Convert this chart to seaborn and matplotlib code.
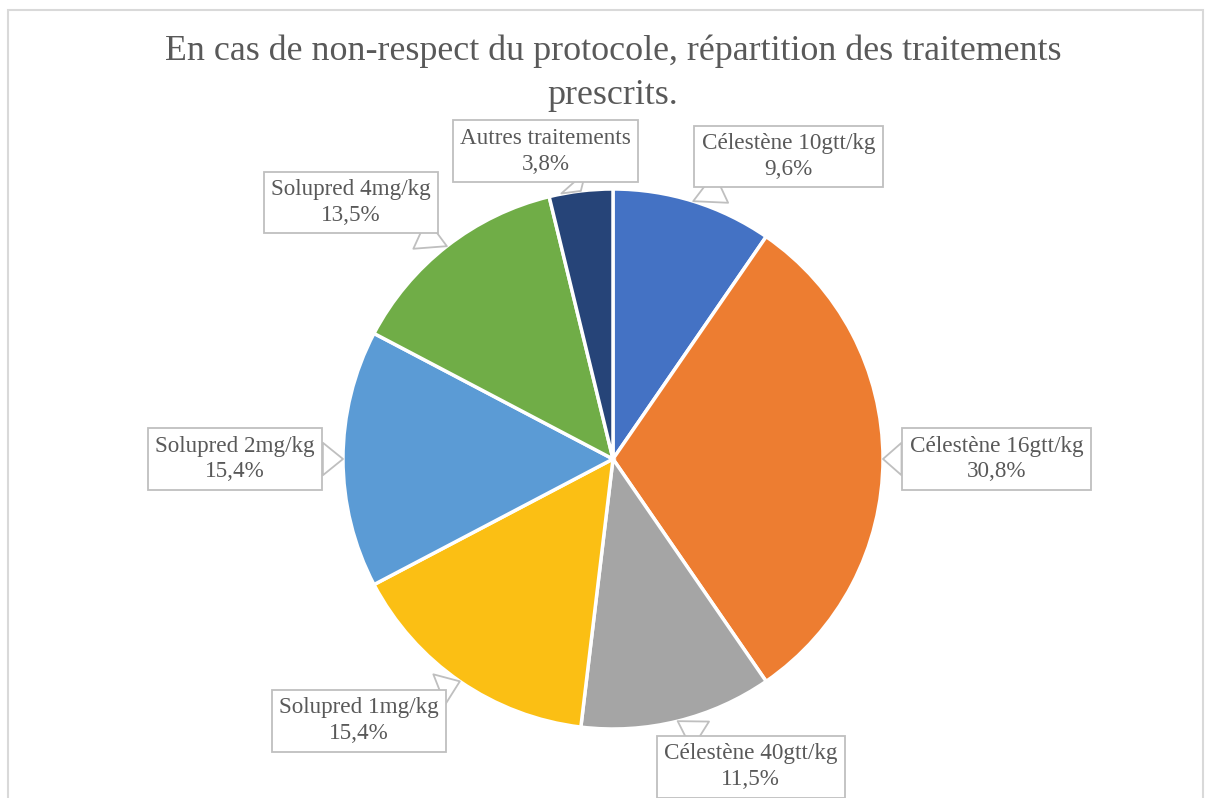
import numpy as np
import matplotlib
matplotlib.use("Agg")
import matplotlib.pyplot as plt
import seaborn as sns

# data (clockwise from 12 o'clock)
labels = ["Célestène 10gtt/kg", "Célestène 16gtt/kg", "Célestène 40gtt/kg",
          "Solupred 1mg/kg", "Solupred 2mg/kg", "Solupred 4mg/kg",
          "Autres traitements"]
shares = [9.6, 30.8, 11.5, 15.4, 15.4, 13.5, 3.8]
colors = ["#4472C4", "#ED7D31", "#A5A5A5", "#FBBF14", "#5B9BD5", "#70AD47", "#264478"]

# callout box centres, in units of pie radius from the centre
label_pos = [(0.65, 1.12), (1.42, 0.0), (0.51, -1.14), (-0.94, -0.97),
             (-1.40, 0.0), (-0.97, 0.95), (-0.25, 1.14)]

sns.set_theme(style="white")
plt.rcParams['font.family'] = ['Liberation Serif', 'DejaVu Serif']

W, H = 1206, 798
fig = plt.figure(figsize=(W / 100, H / 100), dpi=100)
ax = fig.add_axes([0, 0, 1, 1])

cx, cy, r = 613, H - 459, 270
wedges, _ = ax.pie(shares, colors=sns.color_palette(colors), startangle=90,
                   counterclock=False, center=(cx, cy), radius=r,
                   wedgeprops=dict(edgecolor="white", linewidth=2.5))

for w, lab, val, (px, py) in zip(wedges, labels, shares, label_pos):
    mid = np.deg2rad((w.theta1 + w.theta2) / 2)
    tip = (cx + r * np.cos(mid), cy + r * np.sin(mid))
    txt = f"{lab}\n{val:.1f}%".replace(".", ",")
    ax.annotate(txt, xy=tip, xytext=(cx + px * r, cy + py * r),
                ha="center", va="center", fontsize=16.7, color="#595959",
                linespacing=1.3,
                bbox=dict(boxstyle="square,pad=0.32", fc="white", ec="#bfbfbf", lw=1.3),
                arrowprops=dict(arrowstyle="wedge,tail_width=1.4,shrink_factor=0.5",
                                fc="white", ec="#bfbfbf", lw=1.3,
                                shrinkA=0, shrinkB=0))

ax.set_xlim(0, W)
ax.set_ylim(0, H)
ax.axis("off")

fig.text(613 / W, 1 - 73 / H,
         "En cas de non-respect du protocole, répartition des traitements\nprescrits.",
         ha="center", va="center", fontsize=25.8, color="#595959", linespacing=1.45)

# chart area border
fig.patches.append(plt.Rectangle((8 / W, -0.01), (1203 - 8) / W, 1 - 10 / H + 0.01,
                                 transform=fig.transFigure, fill=False,
                                 ec="#d9d9d9", lw=1.5))

fig.savefig("out.png", dpi=100)
